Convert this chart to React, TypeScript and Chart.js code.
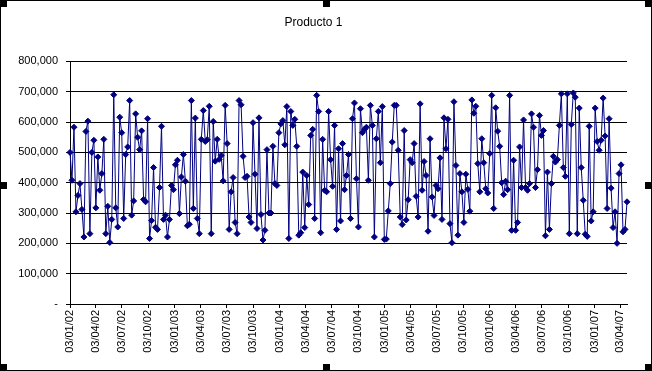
import React, { useEffect, useRef } from 'react';
import { Chart, registerables } from 'chart.js';

Chart.register(...registerables);

const chartTitle = 'Producto 1';

const xTickLabels = [
  '03/01/02', '03/04/02', '03/07/02', '03/10/02',
  '03/01/03', '03/04/03', '03/07/03', '03/10/03',
  '03/01/04', '03/04/04', '03/07/04', '03/10/04',
  '03/01/05', '03/04/05', '03/07/05', '03/10/05',
  '03/01/06', '03/04/06', '03/07/06', '03/10/06',
  '03/01/07', '03/04/07',
];

const yTickValues = [0, 100000, 200000, 300000, 400000, 500000, 600000, 700000, 800000];

// days covered by the series, counted from 03/01/02
const seriesSpanDays = 1939;

const block1 = [500000, 408000, 583000, 304000, 358000, 397000, 312000, 221000, 569000, 603000, 232000, 500000, 540000, 317000, 485000, 375000, 430000, 543000, 232000, 322000, 203000, 279000, 690000];
const block2 = [317000, 254000, 616000, 565000, 282000, 493000, 518000, 671000, 293000, 340000, 627000, 550000, 509000, 571000, 345000, 337000, 611000, 216000, 275000, 450000, 253000, 246000, 384000, 586000, 279000];
const block3 = [293000, 221000, 279000, 391000, 377000, 459000, 474000, 298000, 419000, 493000, 405000, 258000, 263000, 671000, 315000, 613000, 282000, 232000, 543000, 638000, 536000, 542000, 652000, 232000, 602000, 471000];
const block4 = [543000, 477000, 490000, 406000, 655000, 529000, 246000, 370000, 417000, 269000, 232000, 671000, 657000, 487000, 417000, 421000, 287000, 269000, 598000, 428000, 249000, 614000, 295000, 211000, 243000, 509000];
const block5 = [300000, 300000, 520000, 397000, 391000, 565000, 594000, 605000, 525000, 651000, 216000, 635000, 589000, 609000, 520000, 227000, 235000, 435000, 252000, 424000, 328000, 556000, 576000, 282000, 688000, 635000];
const block6 = [235000, 543000, 375000, 370000, 635000, 476000, 388000, 589000, 246000, 512000, 274000, 529000, 377000, 424000, 493000, 282000, 611000, 663000, 413000, 254000, 644000, 565000, 576000, 583000, 408000, 655000];
const block7 = [589000, 221000, 545000, 635000, 466000, 651000, 213000, 214000, 307000, 397000, 534000, 655000, 655000, 507000, 287000, 262000, 572000, 277000, 344000, 476000, 466000, 529000, 355000, 287000, 660000];
const block8 = [375000, 470000, 424000, 240000, 545000, 353000, 292000, 391000, 380000, 482000, 279000, 614000, 512000, 609000, 265000, 202000, 667000, 457000, 227000, 430000, 370000, 269000, 428000, 378000, 306000, 673000];
const block9 = [629000, 652000, 463000, 370000, 545000, 466000, 380000, 366000, 496000, 688000, 315000, 647000, 570000, 520000, 400000, 361000, 405000, 377000, 688000, 243000, 474000, 243000, 269000, 518000, 384000, 607000];
const block10 = [384000, 375000, 397000, 627000, 583000, 384000, 443000, 622000, 556000, 572000, 225000, 435000, 246000, 397000, 487000, 468000, 476000, 589000, 693000, 450000, 421000, 693000, 232000, 592000, 696000];
const block11 = [682000, 232000, 646000, 450000, 342000, 230000, 223000, 586000, 274000, 304000, 646000, 536000, 507000, 540000, 679000, 554000, 315000, 611000, 382000, 252000, 304000, 200000, 430000, 459000, 238000, 246000, 337000];

const seriesValues = [
  ...block1, ...block2, ...block3, ...block4, ...block5, ...block6,
  ...block7, ...block8, ...block9, ...block10, ...block11,
];

const FONT = "'Liberation Sans', Arial, sans-serif";

function dayOffset(label: string): number {
  const [dd, mm, yy] = label.split('/').map(Number);
  const t = Date.UTC(2000 + yy, mm - 1, dd);
  const t0 = Date.UTC(2002, 0, 3);
  return Math.round((t - t0) / 86400000);
}

const frameAndHandles = {
  id: 'frameAndHandles',
  afterDraw(chart: any) {
    const { ctx, width, height } = chart;
    ctx.save();
    ctx.strokeStyle = '#000';
    ctx.lineWidth = 1;
    ctx.strokeRect(0.5, 0.5, width - 1, height - 1);
    ctx.fillStyle = '#000';
    const s = 7;
    const xs = [0, Math.round(width / 2 - s / 2), width - s];
    const ys = [0, Math.round(height / 2 - s / 2), height - s];
    for (const x of xs) {
      for (const y of ys) {
        if (x === xs[1] && y === ys[1]) continue;
        ctx.fillRect(x, y, s, s);
      }
    }
    ctx.restore();
  },
};

export default function App() {
  const ref = useRef<HTMLCanvasElement | null>(null);

  useEffect(() => {
    if (!ref.current) return;
    const tickDays = xTickLabels.map(dayOffset);
    const n = seriesValues.length;
    const points = seriesValues.map((v, i) => ({ x: (i * seriesSpanDays) / (n - 1), y: v }));

    const chart = new Chart(ref.current, {
      type: 'line',
      data: {
        datasets: [
          {
            data: points,
            borderColor: '#000080',
            backgroundColor: '#000080',
            borderWidth: 1,
            pointStyle: 'rectRot',
            pointRadius: 3,
            pointBorderWidth: 1,
            pointBackgroundColor: '#000080',
            pointBorderColor: '#000080',
            tension: 0,
            fill: false,
            clip: false,
          },
        ],
      },
      options: {
        animation: false,
        responsive: false,
        devicePixelRatio: 1,
        layout: { padding: { left: 0, right: 25, top: 0, bottom: 0 } },
        plugins: {
          legend: { display: false },
          tooltip: { enabled: false },
          title: {
            display: true,
            text: chartTitle,
            color: '#000',
            font: { family: FONT, size: 12, weight: 'normal' },
            padding: { top: 15, bottom: 32 },
          },
        },
        scales: {
          x: {
            type: 'linear',
            min: 0,
            max: seriesSpanDays,
            afterBuildTicks: (scale: any) => {
              scale.ticks = tickDays.map((v) => ({ value: v }));
            },
            afterFit: (scale: any) => {
              scale.height = 67;
            },
            grid: { drawOnChartArea: false, drawTicks: true, tickLength: 4, color: '#000' },
            border: { display: true, color: '#000' },
            ticks: {
              autoSkip: false,
              maxRotation: 90,
              minRotation: 90,
              padding: 2,
              color: '#000',
              font: { family: FONT, size: 11 },
              callback: (_v: any, i: number) => xTickLabels[i],
            },
          },
          y: {
            min: 0,
            max: 800000,
            afterBuildTicks: (scale: any) => {
              scale.ticks = yTickValues.map((v) => ({ value: v }));
            },
            afterFit: (scale: any) => {
              scale.width = 70;
            },
            grid: { color: '#000', tickLength: 4, lineWidth: 1 },
            border: { display: true, color: '#000' },
            ticks: {
              padding: 8,
              color: '#000',
              font: { family: FONT, size: 11 },
              callback: (v: any) => (Number(v) === 0 ? '-' : Number(v).toLocaleString('en-US')),
            },
          },
        },
      },
      plugins: [frameAndHandles],
    });
    return () => chart.destroy();
  }, []);

  return (
    <div style={{ position: 'absolute', left: 0, top: 0, width: 652, height: 371, background: '#fff' }}>
      <canvas ref={ref} width={652} height={371} style={{ display: 'block' }} />
    </div>
  );
}
